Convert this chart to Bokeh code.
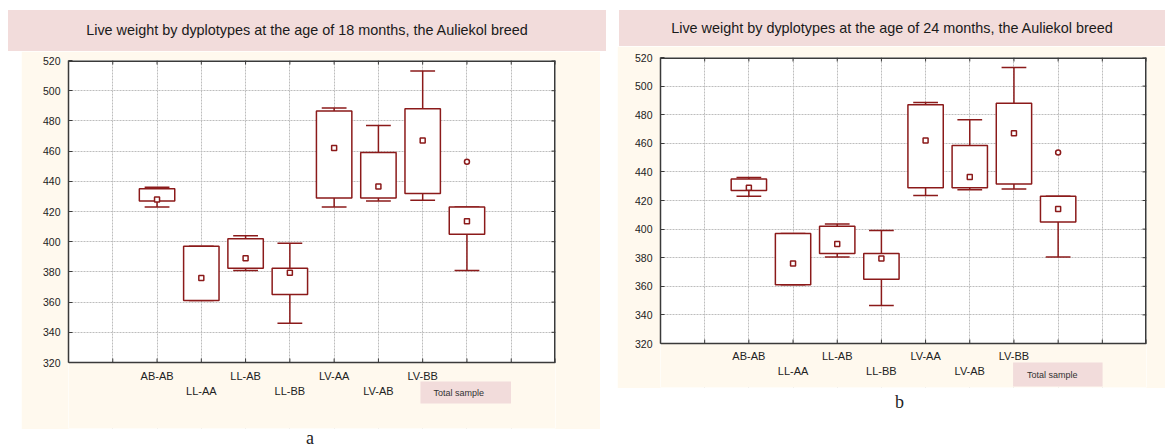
import math
from bokeh.plotting import figure
from bokeh.models import FixedTicker, Grid, Range1d, Label, Div, Spacer
from bokeh.core.properties import value
from bokeh.layouts import row, column
from bokeh.embed import file_html
from bokeh.resources import INLINE

# ---------------- data ----------------
categories = ["AB-AB", "LL-AA", "LL-AB", "LL-BB", "LV-AA", "LV-AB", "LV-BB", "Total sample"]
y_ticks = [320, 340, 360, 380, 400, 420, 440, 460, 480, 500, 520]

title_18 = "Live weight by dyplotypes at the age of 18 months, the Auliekol breed"
min_18 = [423, 361, 381, 346, 423, 427, 427.5, 381]
q1_18 = [427, 361, 382.5, 365, 429, 429, 432, 405]
mean_18 = [428, 376, 389, 379.5, 462, 436.5, 467, 413.5]
q3_18 = [435, 397, 402, 382.5, 486.5, 459, 488, 423]
max_18 = [436, 397, 404, 399, 488.5, 477, 513, 423]
outlier_18 = [453]

title_24 = "Live weight by dyplotypes at the age of 24 months, the Auliekol breed"
min_24 = [423, 361, 380.5, 346.5, 423.5, 427.5, 428, 380.5]
q1_24 = [427, 361, 383, 365, 429, 429, 431.5, 405]
mean_24 = [429, 376, 389.5, 379.5, 462, 436.5, 467, 414]
q3_24 = [435, 397, 402, 383, 487, 458.5, 488, 423]
max_24 = [436, 397, 403.5, 399, 488.5, 476.5, 513, 423]
outlier_24 = [453.5]

# ---------------- styles ----------------
CREAM = "#fff9ee"
PINK = "#f2dcdb"
BOX = "#8b1a1a"
GRID = "#bdbdbd"
FRAME = "#3a3a3a"
TXT = "#222222"
SANS = "Liberation Sans"
SERIF = "Liberation Serif"

n_slots = len(categories) + 3                      # 0..11 slot scale, categories on 2..9
cat_x = [i + 2 for i in range(len(categories))]
grid_x = list(range(n_slots + 1))
row1 = [(x, c) for x, c in zip(cat_x[:-1], categories[:-1]) if x % 2 == 0]
row2 = [(x, c) for x, c in zip(cat_x[:-1], categories[:-1]) if x % 2 == 1]


def make_fig(width, height, mb_left, mb_right, mb_top, mb_bottom, plot_px,
             r1_off, r2_off, mins, q1s, means, q3s, maxs, outl, lbl_dx, lbl_dy, lbl_pad):
    x0, x1 = grid_x[0], grid_x[-1]
    y0, y1 = y_ticks[0], y_ticks[-1]
    frame_px = height - mb_top - mb_bottom
    extra_px = frame_px - plot_px            # strip below the value area for category labels
    y_start = y0 - extra_px * (y1 - y0) / plot_px

    p = figure(width=width, height=height, x_range=Range1d(x0, x1),
               y_range=Range1d(y_start, y1), x_axis_type=None,
               output_backend="svg", toolbar_location=None,
               min_border_left=mb_left, min_border_right=mb_right,
               min_border_top=mb_top, min_border_bottom=mb_bottom,
               background_fill_color="white", border_fill_color=CREAM,
               outline_line_color=None)

    ya = p.yaxis[0]
    ya.ticker = FixedTicker(ticks=y_ticks)
    ya.bounds = (y0, y1)
    ya.major_tick_in = 4
    ya.major_tick_out = 0
    ya.minor_tick_line_color = None
    ya.axis_line_color = FRAME
    ya.axis_line_width = 1.5
    ya.major_tick_line_color = FRAME
    ya.major_label_standoff = 8
    ya.major_label_text_font = SANS
    ya.major_label_text_font_size = "10.5px"
    ya.major_label_text_color = TXT

    xg = Grid(dimension=0, ticker=FixedTicker(ticks=grid_x))
    p.add_layout(xg)
    for g in (xg, p.ygrid[0]):
        g.grid_line_color = GRID
        g.grid_line_dash = "2 1"
        g.grid_line_width = 1

    # cream strip below the value area (hides grid lines there)
    p.quad(left=[x0], right=[x1], bottom=[y_start], top=[y0], fill_color=CREAM, line_color=None)

    # frame edges
    p.segment(x0=[x0], y0=[y0], x1=[x1], y1=[y0], line_color=FRAME, line_width=1.5)
    p.segment(x0=[x0], y0=[y1], x1=[x1], y1=[y1], line_color=FRAME, line_width=3)
    p.segment(x0=[x1], y0=[y0], x1=[x1], y1=[y1], line_color=FRAME, line_width=3)

    # inward tick marks on bottom, top and right edges
    p.ray(x=grid_x, y=[y0] * len(grid_x), length=4, angle=math.pi / 2,
          length_units="screen", line_color=FRAME, line_width=1)
    p.ray(x=grid_x, y=[y1] * len(grid_x), length=4, angle=-math.pi / 2,
          length_units="screen", line_color=FRAME, line_width=1)
    p.ray(x=[x1] * len(y_ticks), y=y_ticks, length=4, angle=math.pi,
          length_units="screen", line_color=FRAME, line_width=1)

    # boxes, whiskers, caps
    p.segment(x0=cat_x, y0=q3s, x1=cat_x, y1=maxs, line_color=BOX, line_width=1.5)
    p.segment(x0=cat_x, y0=q1s, x1=cat_x, y1=mins, line_color=BOX, line_width=1.5)
    cap_l = [x - 0.28 for x in cat_x]
    cap_r = [x + 0.28 for x in cat_x]
    p.segment(x0=cap_l, y0=maxs, x1=cap_r, y1=maxs, line_color=BOX, line_width=1.5)
    p.segment(x0=cap_l, y0=mins, x1=cap_r, y1=mins, line_color=BOX, line_width=1.5)
    p.quad(left=[x - 0.4 for x in cat_x], right=[x + 0.4 for x in cat_x],
           bottom=q1s, top=q3s, fill_color="white", line_color=BOX, line_width=1.5)
    p.scatter(x=cat_x, y=means, marker="square", size=5, fill_color="white",
              line_color=BOX, line_width=1.5)
    p.scatter(x=[cat_x[-1]] * len(outl), y=outl, marker="circle", size=5,
              fill_color="white", line_color=BOX, line_width=1.5)

    # category labels in two staggered rows
    for items, off in ((row1, r1_off), (row2, r2_off)):
        p.text(x=[x for x, _ in items], y=[y0] * len(items), text=[c for _, c in items],
               y_offset=off, text_align="center", text_baseline="middle",
               text_font=value(SANS), text_font_size="11px", text_color=TXT)

    # "Total sample" tag
    p.add_layout(Label(x=cat_x[-1] + lbl_dx, y=y0, y_offset=lbl_dy,
                       text=categories[-1], text_font=SANS, text_font_size="9px",
                       text_color="#333333", text_align="left", text_baseline="top",
                       background_fill_color=PINK, padding=lbl_pad))
    return p


def title_div(text, w, h):
    html = (f'<div style="width:{w}px;height:{h}px;line-height:{h}px;background:{PINK};'
            f'text-align:center;font-family:\'{SANS}\',Arial,sans-serif;font-size:14.4px;'
            f'color:#1a1a1a;white-space:nowrap;">{text}</div>')
    return Div(text=html, width=w, height=h, styles={"margin": "0", "padding": "0"})


def letter_div(ch, w, h, left, lh):
    html = (f'<div style="padding-left:{left}px;font-family:\'{SERIF}\',serif;'
            f'font-size:18px;line-height:{lh}px;color:#222;">{ch}</div>')
    return Div(text=html, width=w, height=h, styles={"margin": "0", "padding": "0"})


p_left = make_fig(579, 378, 47, 45, 9, 1, 302, 13, 28,
                  min_18, q1_18, mean_18, q3_18, max_18, outlier_18,
                  -1.05, -19, dict(left=13, right=27, top=6, bottom=6))
p_right = make_fig(548, 342, 43, 19, 11, 1, 286, 12, 27,
                   min_24, q1_24, mean_24, q3_24, max_24, outlier_24,
                   -1.02, -19, dict(left=14, right=25, top=7, bottom=7))

left_col = column(Spacer(width=598, height=10),
                  title_div(title_18, 598, 41),
                  row(Spacer(width=13, height=378), p_left),
                  letter_div("a", 598, 19, 298, 19))
right_col = column(Spacer(width=548, height=10),
                   row(Spacer(width=2, height=36), title_div(title_24, 546, 36)),
                   p_right,
                   letter_div("b", 548, 28, 278, 28))
layout = row(Spacer(width=8, height=10), left_col, Spacer(width=11, height=10), right_col)

open("out.html", "w").write(file_html(layout, INLINE))
